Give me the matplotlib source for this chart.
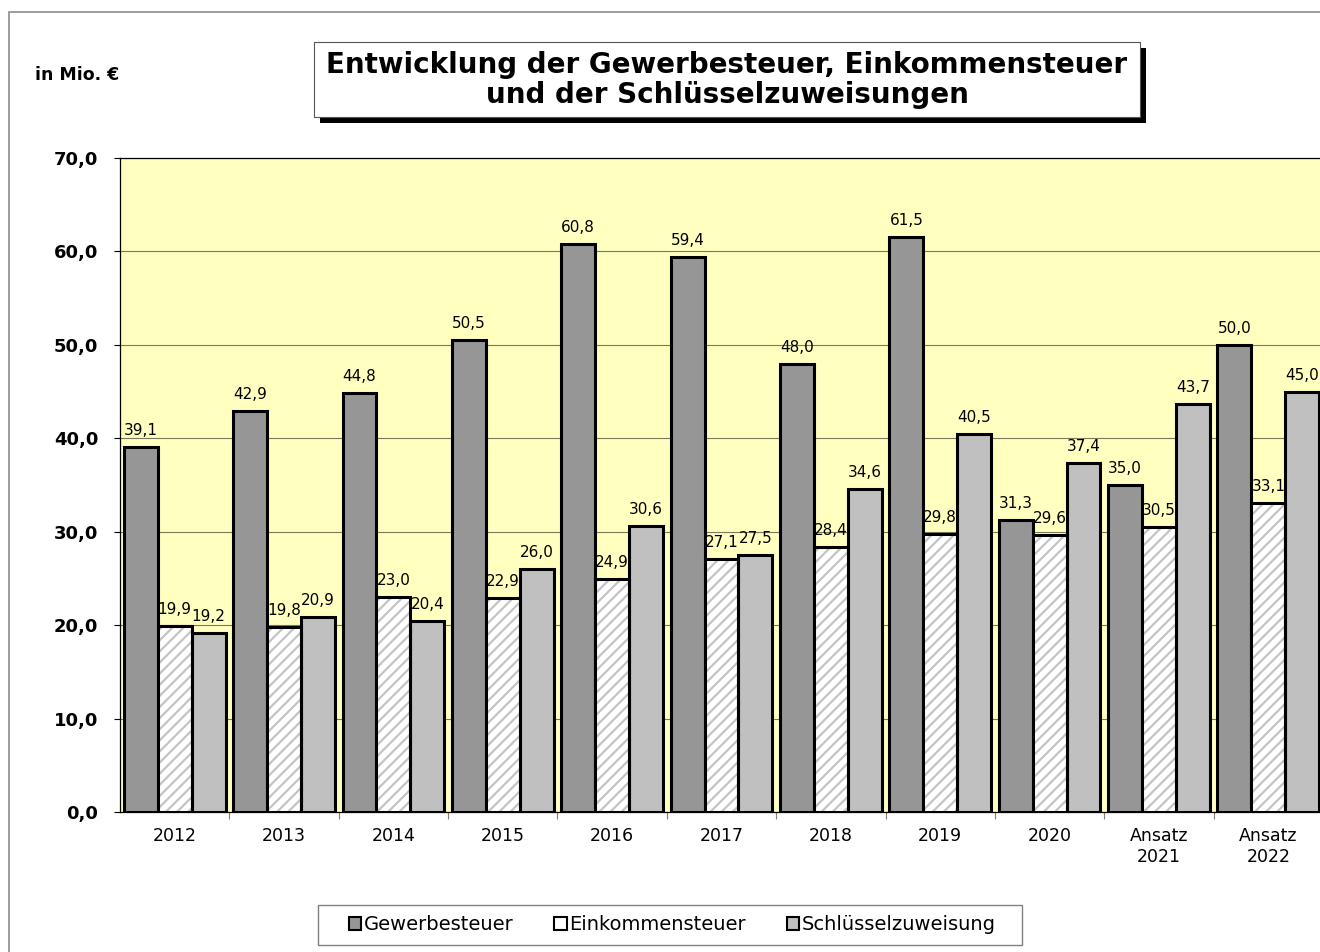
import numpy as np
import matplotlib.pyplot as plt
from matplotlib.patches import Rectangle, Patch

# data (in Mio. EUR)
years = ['2012', '2013', '2014', '2015', '2016', '2017', '2018', '2019', '2020',
         'Ansatz\n2021', 'Ansatz\n2022']
gewerbesteuer = [39.1, 42.9, 44.8, 50.5, 60.8, 59.4, 48.0, 61.5, 31.3, 35.0, 50.0]
einkommensteuer = [19.9, 19.8, 23.0, 22.9, 24.9, 27.1, 28.4, 29.8, 29.6, 30.5, 33.1]
schluesselzuweisung = [19.2, 20.9, 20.4, 26.0, 30.6, 27.5, 34.6, 40.5, 37.4, 43.7, 45.0]

W, H = 1320, 952
DPI = 100


def fx(px):
    return px / W


def fy(py):
    return 1 - py / H


def fmt(v):
    return f'{v:.1f}'.replace('.', ',')


plt.rcParams['hatch.linewidth'] = 1.6
fig = plt.figure(figsize=(W / DPI, H / DPI), dpi=DPI)

# outer frame of the chart object
fig.patches.append(Rectangle((fx(9), fy(H + 20)), fx(W + 20), fy(12) - fy(H + 20),
                             transform=fig.transFigure, facecolor='none',
                             edgecolor='#8c8c8c', lw=1.2, zorder=0))

ax = fig.add_axes([fx(120), fy(812), fx(1323 - 120), fy(158) - fy(812)])
ax.set_facecolor('#FFFFC0')
ax.set_xlim(0, len(years))
ax.set_ylim(0, 70)

bw = 0.31
x = np.arange(len(years)) + 0.5
edge = dict(edgecolor='black', linewidth=2.2)

ax.bar(x - bw, gewerbesteuer, bw, color='#969696', zorder=3, **edge)
# hatched bars: hatch first (grey), outline afterwards
ax.bar(x, einkommensteuer, bw, color='white', hatch='///', edgecolor='#C4C4C4',
       linewidth=0, zorder=3)
ax.bar(x, einkommensteuer, bw, color='none', zorder=4, **edge)
ax.bar(x + bw, schluesselzuweisung, bw, color='#C0C0C0', zorder=3, **edge)

for off, vals in [(-bw, gewerbesteuer), (0, einkommensteuer), (bw, schluesselzuweisung)]:
    for xi, v in zip(x + off, vals):
        ax.annotate(fmt(v), (xi, v), xytext=(0, 9), textcoords='offset pixels',
                    ha='center', va='bottom', fontsize=11, zorder=5,
                    annotation_clip=False)

ax.set_yticks(np.arange(0, 71, 10))
ax.set_yticklabels([fmt(v) for v in np.arange(0, 71, 10)], fontsize=13,
                   fontweight='bold')
ax.yaxis.grid(True, color='#7a7a5a', lw=0.8)
ax.set_axisbelow(True)
ax.tick_params(axis='y', length=4.5, width=0.8, pad=11)

ax.set_xticks(x)
ax.set_xticklabels(years, fontsize=12.5, linespacing=1.2)
ax.set_xticks(np.arange(1, len(years)), minor=True)
ax.tick_params(axis='x', which='major', length=0, pad=11)
ax.tick_params(axis='x', which='minor', length=5, width=0.8, color='#808080')
for s in ax.spines.values():
    s.set_color('black')
    s.set_linewidth(0.9)

fig.text(fx(35), fy(75), 'in Mio. €', fontsize=12.5, fontweight='bold',
         ha='left', va='center')

# title box with shadow
fig.patches.append(Rectangle((fx(320), fy(123)), fx(1146 - 320), fy(48) - fy(123),
                             transform=fig.transFigure, facecolor='black',
                             edgecolor='none', zorder=1))
fig.patches.append(Rectangle((fx(314), fy(117)), fx(1140 - 314), fy(42) - fy(117),
                             transform=fig.transFigure, facecolor='white',
                             edgecolor='#555555', lw=0.8, zorder=2))
fig.text(fx(727), fy(80), 'Entwicklung der Gewerbesteuer, Einkommensteuer\nund der Schlüsselzuweisungen',
         fontsize=20, fontweight='bold', ha='center', va='center',
         linespacing=1.12, zorder=3)

# legend frame drawn separately so its size matches the reference
fig.patches.append(Rectangle((fx(318), fy(945)), fx(1022 - 318), fy(905) - fy(945),
                             transform=fig.transFigure, facecolor='white',
                             edgecolor='#808080', lw=1.0, zorder=1))
handles = [Patch(facecolor='#969696', edgecolor='black', lw=1.5, label='Gewerbesteuer'),
           Patch(facecolor='white', edgecolor='black', lw=1.5, label='Einkommensteuer'),
           Patch(facecolor='#C0C0C0', edgecolor='black', lw=1.5, label='Schlüsselzuweisung')]
leg = fig.legend(handles=handles, loc='center', bbox_to_anchor=(fx(672), fy(925)),
                 ncol=3, fontsize=14, frameon=False,
                 handlelength=0.65, handleheight=0.65, handletextpad=0.12,
                 columnspacing=2.1, borderpad=0.3)

fig.savefig('out.png', dpi=DPI)
